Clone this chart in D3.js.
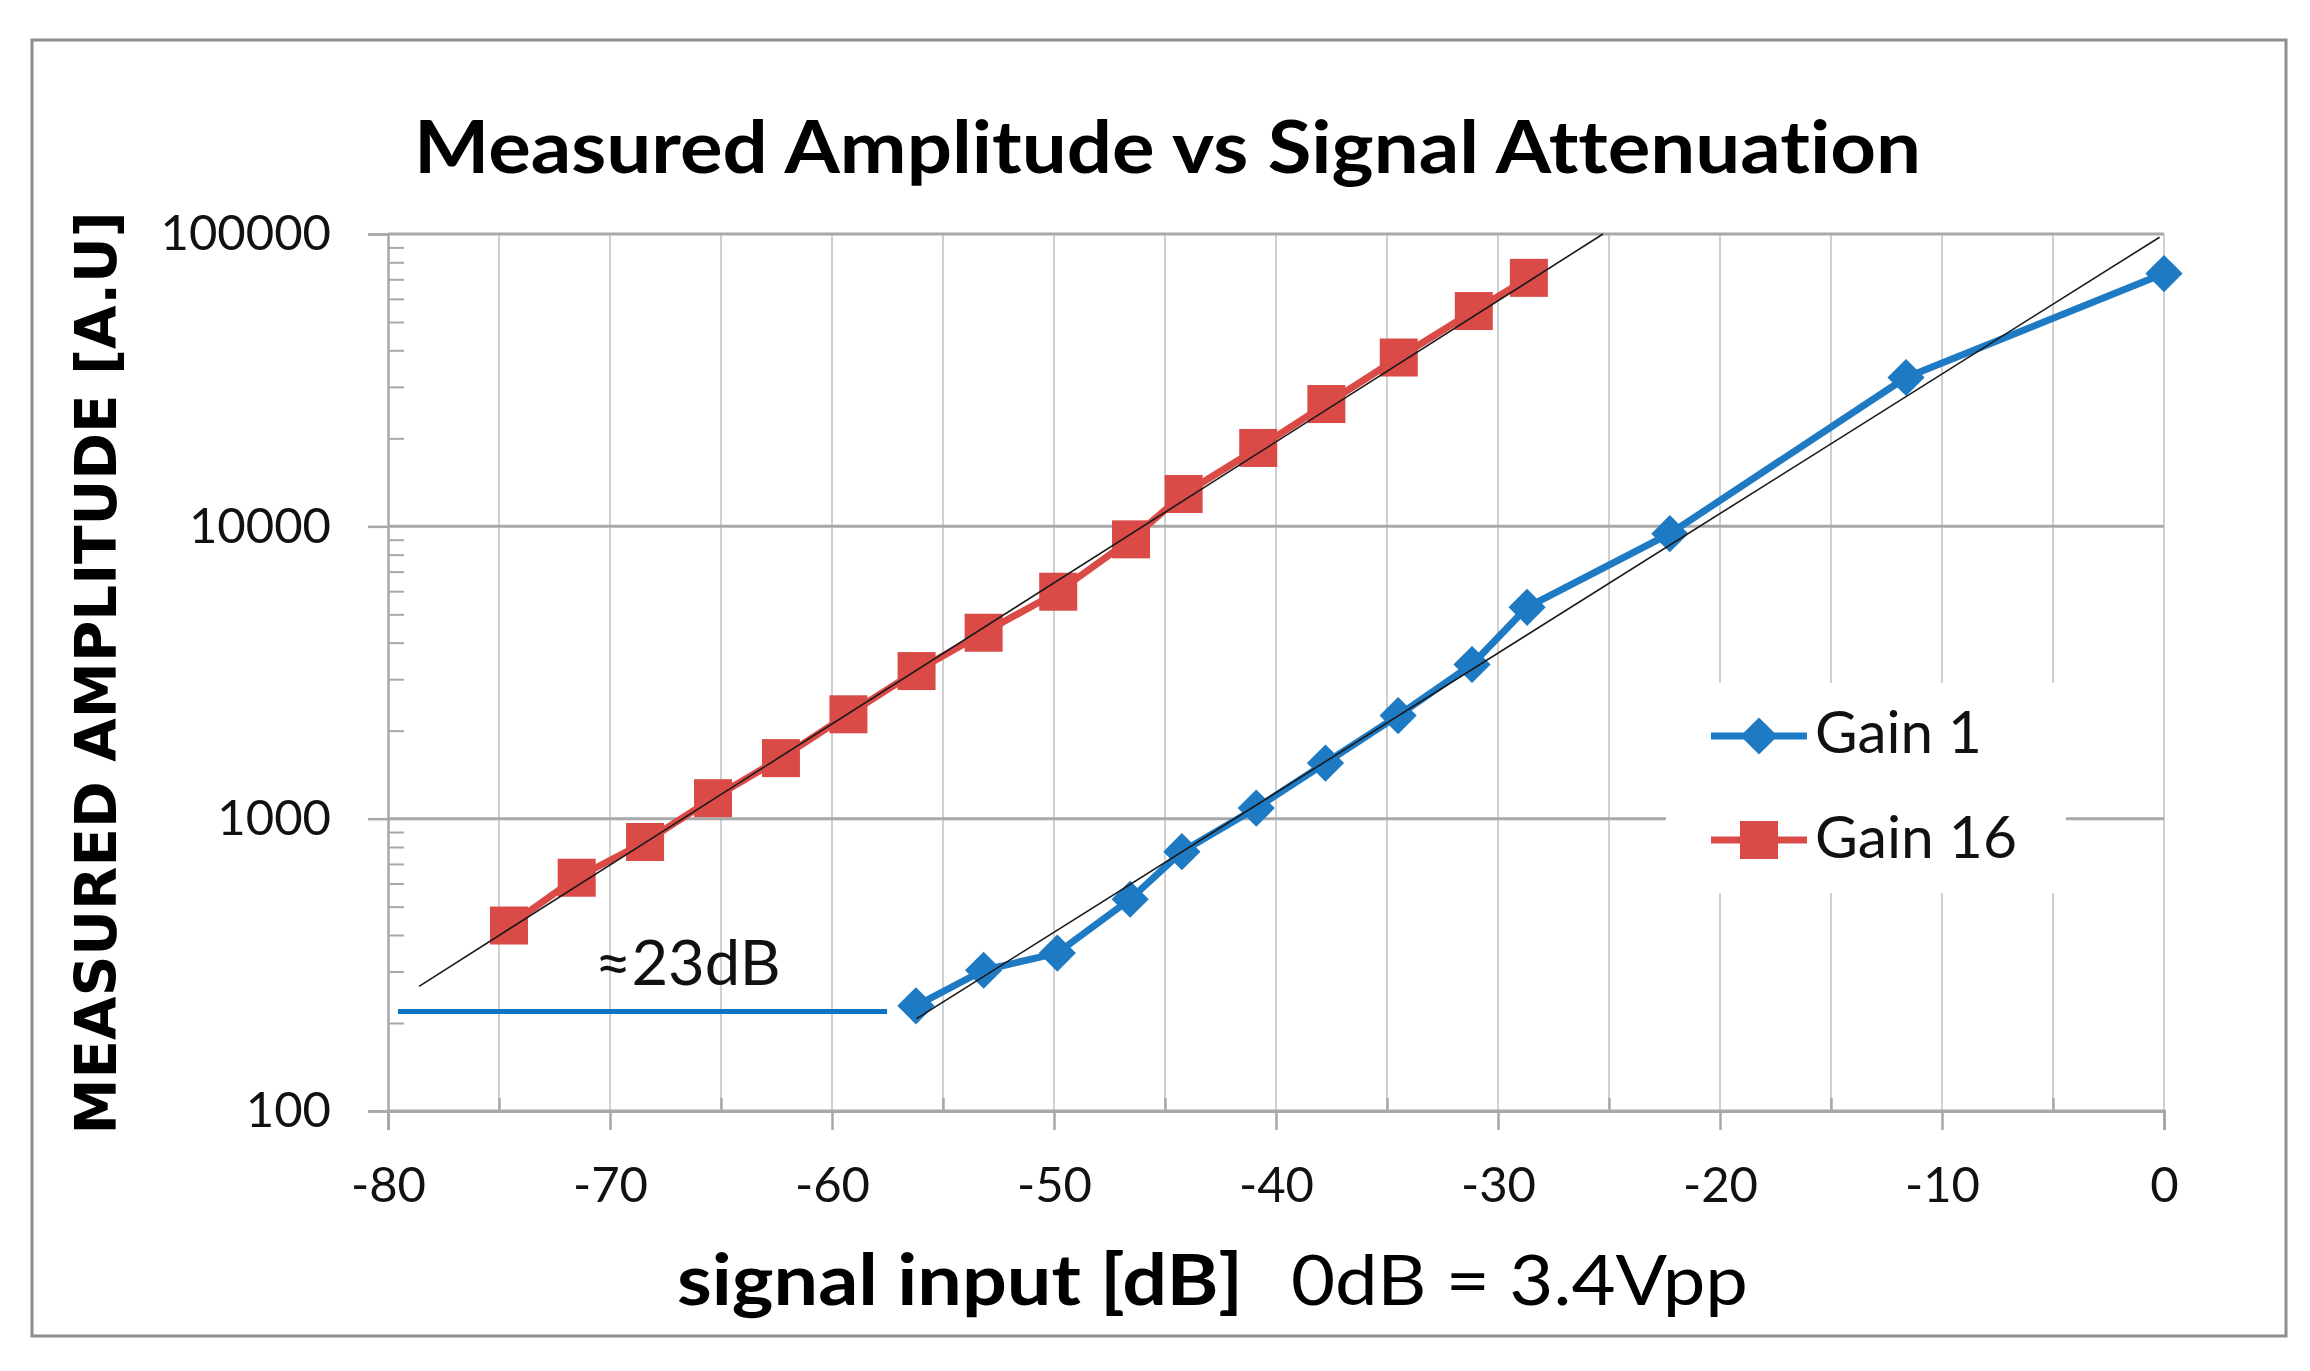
<!DOCTYPE html>
<html>
<head>
<meta charset="utf-8">
<script src="https://cdn.jsdelivr.net/npm/d3@7/dist/d3.min.js"></script>
<style>
  html, body { margin: 0; padding: 0; background: #ffffff; }
  svg { display: block; }
  text { font-variant-ligatures: none; }
</style>
</head>
<body>
<svg id="chart" width="2310" height="1371"></svg>
<script>
// ---------- data ----------
const titleText = "Measured Amplitude vs Signal Attenuation";
const yTitleText = "MEASURED AMPLITUDE [A.U]";
const xTitleBold = "signal input [dB]";
const xTitleRegular = "0dB = 3.4Vpp";
const annotationText = "\u224823dB";

const xTicks = [-80, -70, -60, -50, -40, -30, -20, -10, 0];
const xGrid = [-75, -70, -65, -60, -55, -50, -45, -40, -35, -30, -25, -20, -15, -10, -5, 0];
const yTicks = [100, 1000, 10000, 100000];
const yMinor = [200, 300, 400, 500, 600, 700, 800, 900,
                2000, 3000, 4000, 5000, 6000, 7000, 8000, 9000,
                20000, 30000, 40000, 50000, 60000, 70000, 80000, 90000];

const gain1Db  = [-56.22, -53.17, -49.85, -46.57, -44.24, -40.89, -37.77, -34.5, -31.17, -28.69, -22.26, -11.62, 0];
const gain1Val = [229, 303, 347, 530, 771, 1087, 1550, 2252, 3368, 5285, 9440, 32300, 73200];

const gain16Db  = [-74.55, -71.5, -68.42, -65.36, -62.3, -59.26, -56.19, -53.17, -49.81, -46.53, -44.16, -40.8, -37.73, -34.47, -31.09, -28.61];
const gain16Val = [431, 628, 832, 1175, 1611, 2275, 3198, 4325, 5975, 9025, 12900, 18540, 26200, 37800, 54500, 70800];

// linear-in-dB trend lines (endpoints)
const trend16Db  = [-78.6, -25.27];
const trend16Val = [267, 100000];
const trend1Db   = [-56.19, -0.2];
const trend1Val  = [207, 97500];

// annotation line (≈23dB gap)
const annoLineDb  = [-79.55, -57.52];
const annoLineVal = [219, 219];
const annoTextDb = -66.5, annoTextVal = 270;

const seriesNames = ["Gain 1", "Gain 16"];
const colors = { gain1: "#1f7ac4", gain16: "#da4a47" };

// ---------- layout ----------
const svg = d3.select("#chart");
const L = 388, R = 2164, T = 234, B = 1111;
const x = d3.scaleLinear().domain([-80, 0]).range([L, R]);
const y = d3.scaleLog().domain([100, 100000]).range([B, T]);
const plainFmt = d => String(d);

// outer border
svg.append("rect").attr("x", 32).attr("y", 40).attr("width", 2254).attr("height", 1296)
  .attr("fill", "#ffffff").attr("stroke", "#8e8e8e").attr("stroke-width", 3);

// vertical gridlines
svg.append("g").selectAll("line").data(xGrid).join("line")
  .attr("x1", d => x(d)).attr("x2", d => x(d)).attr("y1", T).attr("y2", B)
  .attr("stroke", "#cfcfcf").attr("stroke-width", 2);

// horizontal major gridlines
svg.append("g").selectAll("line").data(yTicks).join("line")
  .attr("x1", L).attr("x2", R).attr("y1", d => y(d)).attr("y2", d => y(d))
  .attr("stroke", "#a8a8a8").attr("stroke-width", 3);

// legend white box covering gridlines
svg.append("rect").attr("x", 1666).attr("y", 683).attr("width", 400).attr("height", 210)
  .attr("fill", "#ffffff");

// y axis
const yAxis = d3.axisLeft(y).tickValues(yTicks).tickFormat(plainFmt).tickSize(20).tickPadding(37);
const gy = svg.append("g").attr("transform", `translate(${L},0)`).call(yAxis);
gy.select(".domain").attr("stroke", "#a8a8a8").attr("stroke-width", 2.5);
gy.selectAll(".tick line").attr("stroke", "#a8a8a8").attr("stroke-width", 2.5);
gy.selectAll(".tick text").attr("font-family", "Lato, sans-serif").attr("font-size", 49).attr("fill", "#111");

const yMinorAxis = d3.axisLeft(y).tickValues(yMinor).tickFormat("").tickSize(-16);
const gym = svg.append("g").attr("transform", `translate(${L},0)`).call(yMinorAxis);
gym.select(".domain").remove();
gym.selectAll(".tick line").attr("stroke", "#a8a8a8").attr("stroke-width", 2);

// x axis
const xAxis = d3.axisBottom(x).tickValues(xTicks).tickFormat(plainFmt).tickSize(19).tickPadding(37);
const gx = svg.append("g").attr("transform", `translate(0,${B})`).call(xAxis);
gx.select(".domain").attr("stroke", "#a8a8a8").attr("stroke-width", 3);
gx.selectAll(".tick line").attr("stroke", "#a8a8a8").attr("stroke-width", 2.5);
gx.selectAll(".tick text").attr("font-family", "Lato, sans-serif").attr("font-size", 49).attr("fill", "#111");

const xMinorAxis = d3.axisBottom(x).tickValues(xGrid.filter(d => d % 10 !== 0)).tickFormat("").tickSize(-13);
const gxm = svg.append("g").attr("transform", `translate(0,${B})`).call(xMinorAxis);
gxm.select(".domain").remove();
gxm.selectAll(".tick line").attr("stroke", "#a8a8a8").attr("stroke-width", 2.5);

const line = d3.line().x(d => x(d[0])).y(d => y(d[1]));
const trend16 = d3.zip(trend16Db, trend16Val);
const trend1 = d3.zip(trend1Db, trend1Val);
const g16 = d3.zip(gain16Db, gain16Val);
const g1 = d3.zip(gain1Db, gain1Val);

// series lines
svg.append("path").datum(g16).attr("d", line).attr("fill", "none")
  .attr("stroke", colors.gain16).attr("stroke-width", 7).attr("stroke-linejoin", "round");
svg.append("path").datum(g1).attr("d", line).attr("fill", "none")
  .attr("stroke", colors.gain1).attr("stroke-width", 7).attr("stroke-linejoin", "round");

// markers
const sq = 38;
svg.append("g").selectAll("rect").data(g16).join("rect")
  .attr("x", d => x(d[0]) - sq / 2).attr("y", d => y(d[1]) - sq / 2)
  .attr("width", sq).attr("height", sq).attr("fill", colors.gain16);

const dia = d3.symbol().type(d3.symbolDiamond2).size(42 * 42 / 2);
svg.append("g").selectAll("path").data(g1).join("path")
  .attr("transform", d => `translate(${x(d[0])},${y(d[1])})`)
  .attr("d", dia).attr("fill", colors.gain1);

// trend lines on top
svg.append("path").datum(trend16).attr("d", line).attr("stroke", "#1a1a1a").attr("stroke-width", 1.6).attr("fill", "none");
svg.append("path").datum(trend1).attr("d", line).attr("stroke", "#1a1a1a").attr("stroke-width", 1.6).attr("fill", "none");

// annotation
svg.append("path").datum(d3.zip(annoLineDb, annoLineVal)).attr("d", line)
  .attr("stroke", "#0f74c2").attr("stroke-width", 5).attr("fill", "none");
svg.append("text").attr("x", x(annoTextDb)).attr("y", y(annoTextVal))
  .attr("text-anchor", "middle").attr("font-family", "Lato, sans-serif").attr("font-size", 62)
  .attr("fill", "#111").attr("textLength", 186).attr("lengthAdjust", "spacingAndGlyphs")
  .text(annotationText);

// legend
const legY = [736, 840];
const legG = svg.append("g");
legG.append("line").attr("x1", 1711).attr("x2", 1807).attr("y1", legY[0]).attr("y2", legY[0])
  .attr("stroke", colors.gain1).attr("stroke-width", 7);
legG.append("path").attr("transform", `translate(1759,${legY[0]})`).attr("d", dia).attr("fill", colors.gain1);
legG.append("line").attr("x1", 1711).attr("x2", 1807).attr("y1", legY[1]).attr("y2", legY[1])
  .attr("stroke", colors.gain16).attr("stroke-width", 7);
legG.append("rect").attr("x", 1759 - sq / 2).attr("y", legY[1] - sq / 2).attr("width", sq).attr("height", sq)
  .attr("fill", colors.gain16);
legG.append("text").attr("x", 1815).attr("y", 753).attr("font-family", "Lato, sans-serif")
  .attr("font-size", 58).attr("fill", "#111").attr("textLength", 167).attr("lengthAdjust", "spacingAndGlyphs")
  .text(seriesNames[0]);
legG.append("text").attr("x", 1815).attr("y", 858).attr("font-family", "Lato, sans-serif")
  .attr("font-size", 58).attr("fill", "#111").attr("textLength", 202).attr("lengthAdjust", "spacingAndGlyphs")
  .text(seriesNames[1]);

// title
svg.append("text").attr("x", 414).attr("y", 173).attr("font-family", "Lato, sans-serif")
  .attr("font-weight", "bold").attr("font-size", 73).attr("fill", "#000")
  .attr("textLength", 1507).attr("lengthAdjust", "spacingAndGlyphs").text(titleText);

// x title
svg.append("text").attr("x", 677).attr("y", 1305).attr("font-family", "Lato, sans-serif")
  .attr("font-weight", "bold").attr("font-size", 70).attr("fill", "#000")
  .attr("textLength", 566).attr("lengthAdjust", "spacingAndGlyphs").text(xTitleBold);
svg.append("text").attr("x", 1291).attr("y", 1305).attr("font-family", "Lato, sans-serif")
  .attr("font-size", 70).attr("fill", "#000")
  .attr("textLength", 457).attr("lengthAdjust", "spacingAndGlyphs").text(xTitleRegular);

// y title
svg.append("text").attr("transform", "translate(116,673) rotate(-90)")
  .attr("text-anchor", "middle").attr("font-family", "'DejaVu Sans', sans-serif")
  .attr("font-weight", "bold").attr("font-size", 57).attr("fill", "#000")
  .attr("textLength", 923).attr("lengthAdjust", "spacingAndGlyphs").text(yTitleText);
</script>
</body>
</html>
